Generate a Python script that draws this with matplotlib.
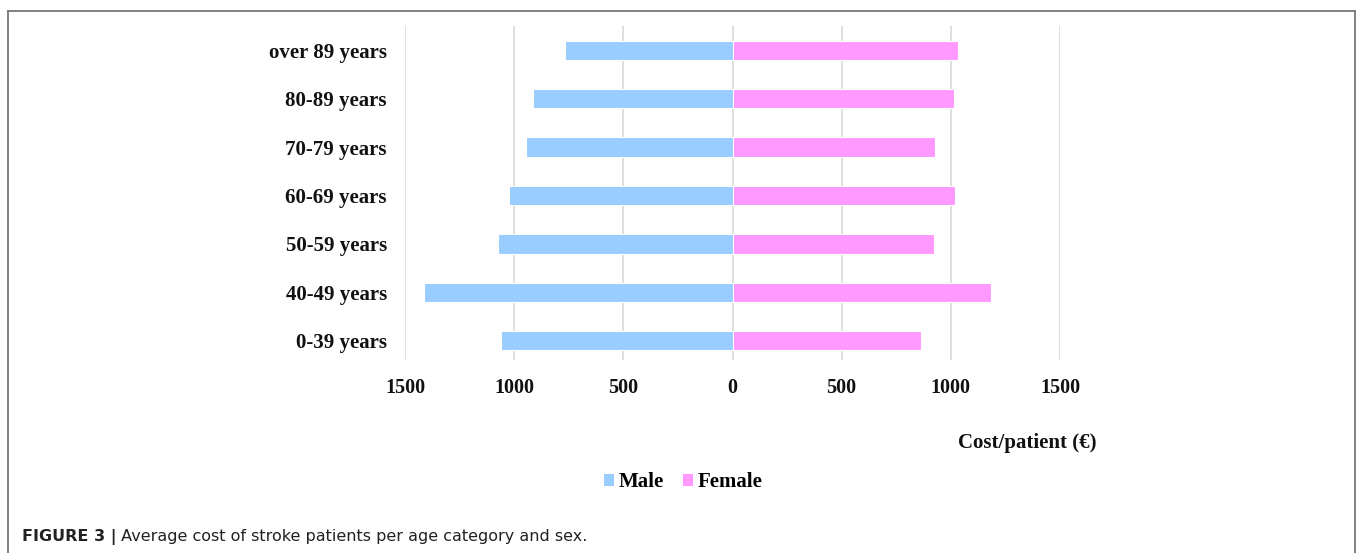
import matplotlib
matplotlib.use("Agg")
import matplotlib.pyplot as plt
from matplotlib.ticker import FuncFormatter, FixedLocator
from matplotlib.lines import Line2D
from matplotlib.patches import Patch
from matplotlib.text import Annotation

categories = ["0-39 years", "40-49 years", "50-59 years", "60-69 years",
              "70-79 years", "80-89 years", "over 89 years"]
male = [1061, 1412, 1076, 1023, 945, 914, 766]
female = [865, 1186, 922, 1020, 926, 1016, 1033]
xticks = [-1500, -1000, -500, 0, 500, 1000, 1500]

male_color = "#99CCFF"
female_color = "#FF99FF"
serif = ["Liberation Serif", "DejaVu Serif"]

W, H = 1358, 553
fig = plt.figure(figsize=(W / 100, H / 100), dpi=100)
ax = fig.add_axes([405 / W, 1 - 360 / H, (1060 - 405) / W, (360 - 26) / H])

y = list(range(len(categories)))
ax.barh(y, [-v for v in male], height=0.4, color=male_color, edgecolor="white", linewidth=0.8, zorder=3)
ax.barh(y, female, height=0.4, color=female_color, edgecolor="white", linewidth=0.8, zorder=3)

ax.set_xlim(-1500, 1500)
ax.set_ylim(-0.4, 6.5)
ax.xaxis.set_major_locator(FixedLocator(xticks))
ax.xaxis.set_major_formatter(FuncFormatter(lambda v, p: f"{abs(int(v))}"))
ax.set_yticks(y)
ax.set_yticklabels(categories)
ax.grid(axis="x", color="#D9D9D9", linewidth=1.2, zorder=0)
ax.grid(axis="y", visible=False)
for s in ax.spines.values():
    s.set_visible(False)
ax.tick_params(axis="both", length=0)
ax.tick_params(axis="y", pad=13)
ax.tick_params(axis="x", pad=13)
for lab in ax.get_xticklabels():
    lab.set_fontfamily(serif)
    lab.set_fontweight("bold")
    lab.set_fontsize(14.5)
    lab.set_color("#111111")
for lab in ax.get_yticklabels():
    lab.set_fontfamily(serif)
    lab.set_fontweight("bold")
    lab.set_fontsize(15)
    lab.set_color("#111111")

fig.text(1096 / W, 1 - 443 / H, "Cost/patient (€)", ha="right", va="center",
         fontfamily=serif, fontweight="bold", fontsize=15, color="#111111")

handles = [Patch(facecolor=male_color, edgecolor="none", label="Male"),
           Patch(facecolor=female_color, edgecolor="none", label="Female")]
fig.legend(handles=handles, loc="center", bbox_to_anchor=(683 / W, 1 - 482 / H), ncol=2,
           frameon=False, handlelength=0.5, handleheight=0.5, handletextpad=0.2,
           columnspacing=0.9, prop={"family": serif, "weight": "bold", "size": 15})

# frame
lc = "#777777"
fig.add_artist(Line2D([8 / W, 8 / W], [0, 1 - 11 / H], color=lc, linewidth=1.3, transform=fig.transFigure))
fig.add_artist(Line2D([8 / W, 1355 / W], [1 - 11 / H, 1 - 11 / H], color=lc, linewidth=1.3, transform=fig.transFigure))
fig.add_artist(Line2D([1355 / W, 1355 / W], [0, 1 - 11 / H], color=lc, linewidth=1.3, transform=fig.transFigure))

sans = ["DejaVu Sans"]
t1 = fig.text(22 / W, 1 - 537 / H, "FIGURE 3 |", ha="left", va="center",
              fontfamily=sans, fontweight="bold", fontsize=11.5, color="#222222")
ann = Annotation(" Average cost of stroke patients per age category and sex.",
                 xy=(1, 0.5), xycoords=t1, ha="left", va="center",
                 fontfamily=sans, fontsize=11.5, color="#222222")
fig.add_artist(ann)

fig.savefig("out.png", dpi=100)
